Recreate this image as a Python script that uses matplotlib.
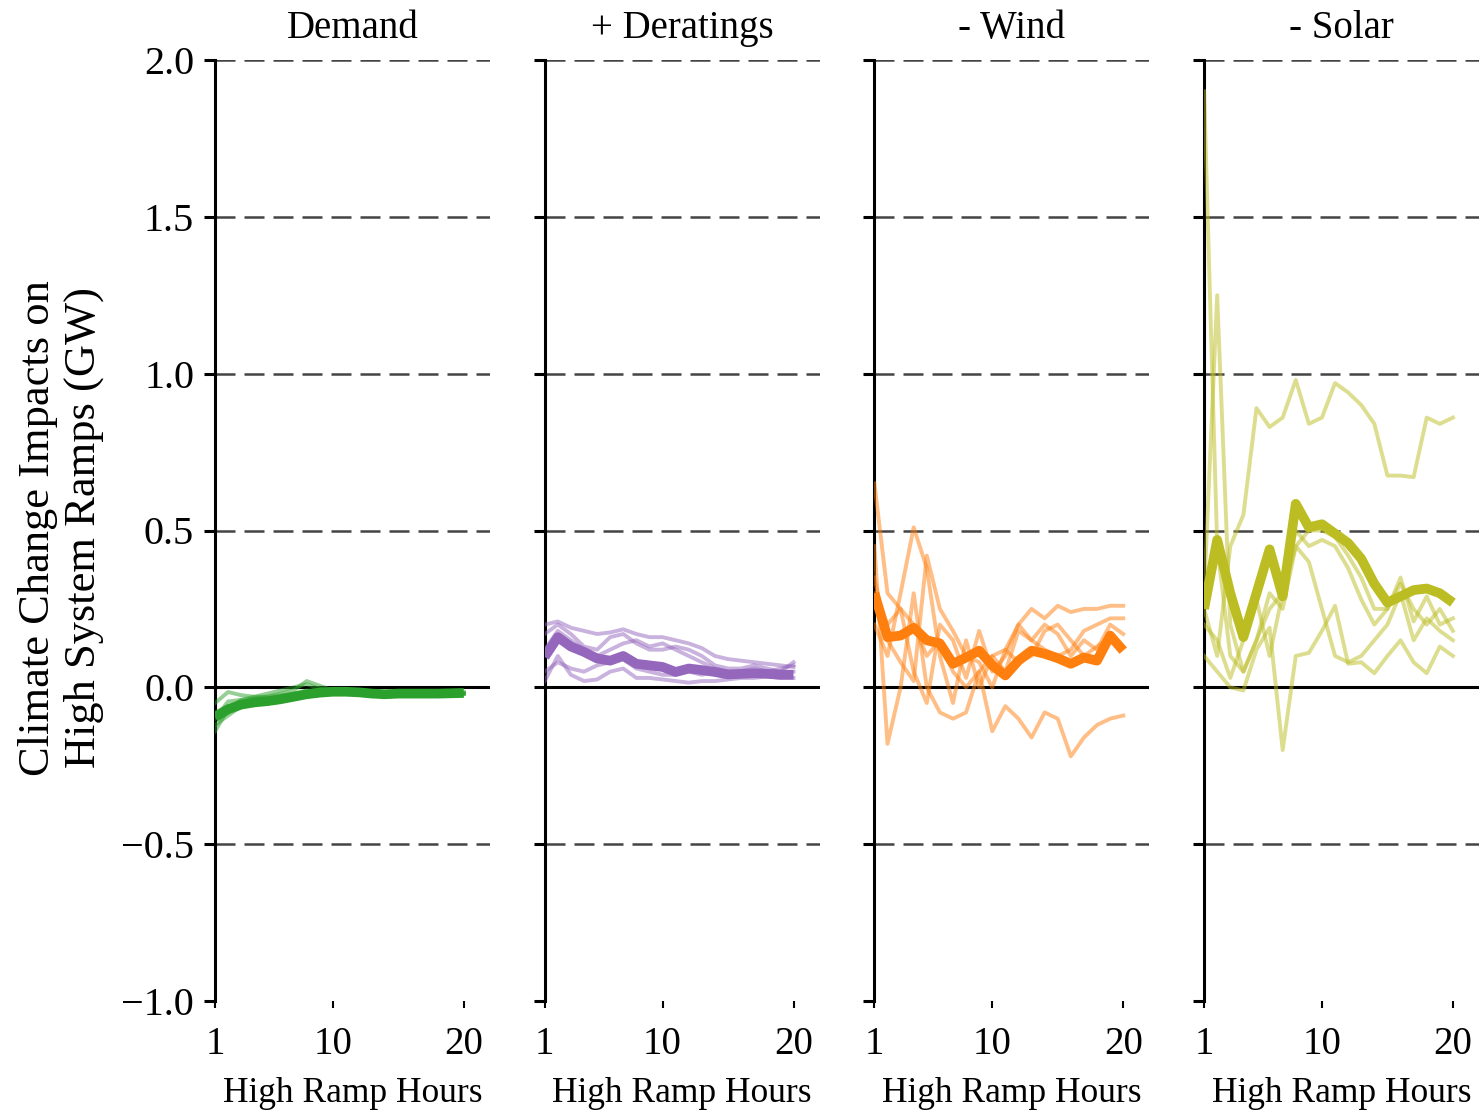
import numpy as np
import matplotlib.pyplot as plt

plt.rcParams['font.family'] = ['Liberation Serif', 'DejaVu Serif']

# x axis: high ramp hours 1..20
hours = np.arange(1, 21)

titles = ['Demand', '+ Deratings', '- Wind', '- Solar']
colors = ['#2ca02c', '#9467bd', '#ff7f0e', '#bcbd22']

# Demand
demand_mean = [-0.095, -0.07, -0.055, -0.048, -0.044, -0.038, -0.03, -0.022, -0.017, -0.014,
               -0.014, -0.016, -0.02, -0.022, -0.02, -0.02, -0.02, -0.02, -0.019, -0.018]
demand_runs = [
    [-0.14, -0.07, -0.04, -0.03, -0.03, -0.02, -0.01, 0.02, 0.005, -0.01,
     -0.015, -0.02, -0.02, -0.02, -0.02, -0.02, -0.02, -0.02, -0.02, -0.02],
    [-0.05, -0.015, -0.025, -0.03, -0.02, -0.01, 0.0, 0.01, -0.005, -0.01,
     -0.015, -0.015, -0.02, -0.02, -0.015, -0.02, -0.02, -0.02, -0.015, -0.015],
    [-0.12, -0.09, -0.06, -0.05, -0.05, -0.04, -0.03, -0.025, -0.02, -0.02,
     -0.02, -0.02, -0.025, -0.025, -0.02, -0.02, -0.025, -0.02, -0.02, -0.02],
    [-0.08, -0.06, -0.05, -0.04, -0.035, -0.03, -0.025, -0.02, -0.015, -0.015,
     -0.015, -0.02, -0.02, -0.02, -0.02, -0.02, -0.02, -0.02, -0.02, -0.02],
    [-0.1, -0.045, -0.04, -0.035, -0.03, -0.025, -0.02, -0.01, -0.01, -0.01,
     -0.01, -0.015, -0.015, -0.02, -0.02, -0.015, -0.02, -0.02, -0.02, -0.02],
]

# + Deratings
derate_mean = [0.097, 0.16, 0.13, 0.113, 0.092, 0.085, 0.1, 0.075, 0.07, 0.065,
               0.049, 0.06, 0.055, 0.049, 0.041, 0.043, 0.045, 0.043, 0.04, 0.04]
derate_runs = [
    [0.2, 0.21, 0.19, 0.18, 0.17, 0.175, 0.185, 0.17, 0.16, 0.16,
     0.15, 0.14, 0.125, 0.1, 0.09, 0.085, 0.08, 0.075, 0.07, 0.065],
    [0.17, 0.2, 0.17, 0.13, 0.12, 0.16, 0.17, 0.14, 0.12, 0.12,
     0.13, 0.12, 0.1, 0.07, 0.06, 0.06, 0.07, 0.06, 0.05, 0.08],
    [0.02, 0.1, 0.04, 0.02, 0.025, 0.05, 0.06, 0.03, 0.03, 0.025,
     0.02, 0.015, 0.02, 0.02, 0.025, 0.03, 0.03, 0.035, 0.03, 0.03],
    [0.05, 0.08, 0.06, 0.05, 0.07, 0.08, 0.09, 0.06, 0.05, 0.04,
     0.04, 0.05, 0.04, 0.05, 0.04, 0.05, 0.06, 0.05, 0.05, 0.05],
    [0.12, 0.18, 0.15, 0.12, 0.1, 0.12, 0.14, 0.15, 0.13, 0.14,
     0.12, 0.1, 0.08, 0.06, 0.05, 0.05, 0.04, 0.05, 0.06, 0.07],
]

# - Wind
wind_mean = [0.3, 0.16, 0.165, 0.19, 0.15, 0.14, 0.075, 0.095, 0.117, 0.07,
             0.038, 0.085, 0.117, 0.107, 0.093, 0.075, 0.095, 0.085, 0.165, 0.117]
wind_runs = [
    [0.65, 0.3, 0.25, 0.2, 0.1, 0.15, 0.05, 0.0, 0.05, 0.1,
     0.12, 0.2, 0.25, 0.22, 0.26, 0.24, 0.25, 0.25, 0.26, 0.26],
    [0.2, 0.1, 0.3, 0.51, 0.38, 0.1, -0.05, 0.15, 0.0, 0.1,
     0.05, 0.18, 0.15, 0.12, 0.1, 0.12, 0.18, 0.2, 0.22, 0.22],
    [0.45, -0.18, 0.0, 0.3, 0.0, -0.08, -0.1, -0.08, 0.05, -0.14,
     -0.06, -0.1, -0.16, -0.08, -0.1, -0.22, -0.16, -0.12, -0.1, -0.09],
    [0.3, 0.2, 0.25, 0.05, -0.05, 0.2, 0.15, 0.03, 0.18, 0.05,
     0.1, 0.2, 0.15, 0.2, 0.17, 0.1, 0.15, 0.12, 0.2, 0.17],
    [0.35, 0.15, 0.08, 0.02, 0.42, 0.25, 0.18, 0.1, 0.08, 0.0,
     0.12, 0.08, 0.1, 0.18, 0.2, 0.15, 0.1, 0.13, 0.16, 0.13],
]

# - Solar
solar_mean = [0.25, 0.47, 0.3, 0.16, 0.3, 0.44, 0.29, 0.585, 0.51, 0.52,
              0.49, 0.46, 0.41, 0.33, 0.27, 0.29, 0.31, 0.315, 0.3, 0.27]
solar_runs = [
    [1.9, 0.45, 0.1, 0.05, 0.15, 0.3, 0.25, 0.45, 0.5, 0.5,
     0.48, 0.42, 0.35, 0.25, 0.25, 0.35, 0.21, 0.29, 0.2, 0.22],
    [0.3, 1.25, 0.2, 0.05, 0.15, 0.25, 0.3, 0.5, 0.45, 0.47,
     0.45, 0.38, 0.28, 0.2, 0.25, 0.33, 0.25, 0.2, 0.25, 0.18],
    [0.25, 0.1, 0.45, 0.55, 0.89, 0.83, 0.86, 0.98, 0.84, 0.86,
     0.97, 0.94, 0.9, 0.84, 0.675, 0.675, 0.67, 0.86, 0.84, 0.86],
    [0.1, 0.05, 0.0, -0.01, 0.12, 0.19, -0.2, 0.1, 0.11, 0.18,
     0.26, 0.075, 0.08, 0.045, 0.1, 0.15, 0.08, 0.045, 0.13, 0.1],
    [0.2, 0.15, 0.03, 0.15, 0.28, 0.1, 0.3, 0.45, 0.4, 0.25,
     0.1, 0.08, 0.1, 0.15, 0.2, 0.3, 0.15, 0.22, 0.18, 0.15],
]

means = [demand_mean, derate_mean, wind_mean, solar_mean]
runs = [demand_runs, derate_runs, wind_runs, solar_runs]

y_ticks = [-1.0, -0.5, 0.0, 0.5, 1.0, 1.5, 2.0]
grid_levels = [-0.5, 0.5, 1.0, 1.5, 2.0]
x_ticks = [1, 10, 20]

W, H = 1481, 1111
fig = plt.figure(figsize=(W / 100, H / 100), dpi=100)

for i in range(4):
    left = (215 + 329.7 * i) / W
    ax = fig.add_axes([left, 1 - 1001 / H, 275 / W, 941 / H])

    for lvl in grid_levels:
        ax.axhline(lvl, color='#444444', lw=1.8, ls=(0, (8, 3.6)), zorder=1)
    ax.axhline(0, color='black', lw=2.2, zorder=2)

    for r in runs[i]:
        ax.plot(hours, r, color=colors[i], lw=2.8, alpha=0.5, zorder=3)
    ax.plot(hours, means[i], color=colors[i], lw=7, zorder=4,
            solid_joinstyle='round', solid_capstyle='butt')

    ax.set_xlim(1, 22)
    ax.set_ylim(-1, 2)
    ax.set_xticks(x_ticks)
    ax.set_yticks(y_ticks)
    for s in ['top', 'right', 'bottom']:
        ax.spines[s].set_visible(False)
    ax.spines['left'].set_linewidth(2.2)
    ax.tick_params(axis='y', length=8, width=2.2, labelsize=29, pad=7)
    ax.tick_params(axis='x', length=5, width=1.5, labelsize=28, pad=13)
    if i > 0:
        ax.set_yticklabels([])
    else:
        ax.set_yticklabels([f'{v:.1f}'.replace('-', '\u2212') for v in y_ticks])
    ax.set_xlabel('High Ramp Hours', fontsize=25.5, labelpad=10)
    ax.set_title(titles[i], fontsize=28, pad=16)

fig.text(61 / W, 1 - 528 / H, 'Climate Change Impacts on\nHigh System Ramps (GW)',
         rotation=90, ha='center', va='center', fontsize=32, linespacing=1.2)

fig.savefig('out.png', dpi=100)
